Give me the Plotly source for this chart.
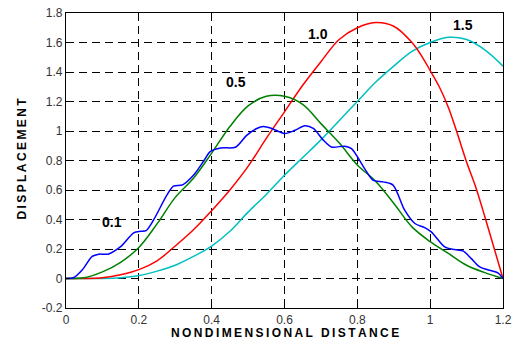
import plotly.graph_objects as go

# ---- data ----
x_grid = [0, 0.05, 0.1, 0.15, 0.2, 0.25, 0.3, 0.35, 0.4, 0.45, 0.5, 0.55, 0.6,
          0.65, 0.7, 0.75, 0.8, 0.85, 0.9, 0.95, 1.0, 1.05, 1.1, 1.15, 1.2]

x_red = [0, 0.05, 0.1, 0.15, 0.2, 0.25, 0.3, 0.35, 0.4, 0.45, 0.5, 0.55, 0.6,
         0.65, 0.7, 0.75, 0.8, 0.85, 0.9, 0.95, 0.975, 1.0, 1.025, 1.05, 1.075,
         1.1, 1.125, 1.15, 1.175, 1.2]
y_red = [0, 0.0, 0.005, 0.025, 0.06, 0.12, 0.22, 0.33, 0.46, 0.6, 0.76, 0.95, 1.13,
         1.31, 1.47, 1.62, 1.70, 1.735, 1.71, 1.60, 1.515, 1.41, 1.30, 1.16, 0.98,
         0.79, 0.62, 0.42, 0.21, 0.0]

y_cyan = [0, 0.0, 0.0, 0.005, 0.02, 0.05, 0.09, 0.15, 0.22, 0.32, 0.45, 0.57, 0.70,
          0.82, 0.94, 1.07, 1.2, 1.33, 1.44, 1.54, 1.60, 1.635, 1.62, 1.55, 1.44]

y_green = [0, 0.005, 0.045, 0.11, 0.21, 0.37, 0.55, 0.68, 0.85, 1.03, 1.17, 1.235, 1.235,
           1.18, 1.05, 0.92, 0.77, 0.66, 0.51, 0.35, 0.25, 0.17, 0.09, 0.04, 0.0]

x_blue = [0, 0.02, 0.045, 0.072, 0.09, 0.115, 0.149, 0.186, 0.205, 0.22, 0.24, 0.277,
          0.295, 0.32, 0.35, 0.379, 0.396, 0.425, 0.465, 0.496, 0.524, 0.542, 0.565,
          0.601, 0.629, 0.656, 0.679, 0.706, 0.729, 0.766, 0.784, 0.82, 0.843, 0.871,
          0.898, 0.93, 0.958, 0.985, 1.003, 1.04, 1.067, 1.09, 1.113, 1.136, 1.163,
          1.186, 1.2]
y_blue = [0, 0.005, 0.06, 0.15, 0.165, 0.165, 0.214, 0.31, 0.32, 0.325, 0.395, 0.565,
          0.626, 0.635, 0.70, 0.80, 0.86, 0.885, 0.89, 0.97, 1.017, 1.03, 1.017,
          0.983, 1.005, 1.035, 1.017, 0.94, 0.892, 0.897, 0.88, 0.745, 0.667, 0.655,
          0.633, 0.463, 0.373, 0.345, 0.316, 0.214, 0.196, 0.187, 0.135, 0.079, 0.056,
          0.038, 0.0]

curve_labels = ["0.1", "0.5", "1.0", "1.5"]
label_x = [0.127, 0.467, 0.693, 1.09]
label_y = [0.384, 1.333, 1.66, 1.717]

x_ticks = [0, 0.2, 0.4, 0.6, 0.8, 1.0, 1.2]
x_ticktext = ["0", "0.2", "0.4", "0.6", "0.8", "1", "1.2"]
y_ticks = [-0.2, 0, 0.2, 0.4, 0.6, 0.8, 1.0, 1.2, 1.4, 1.6, 1.8]
y_ticktext = ["-0.2", "0", "0.2", "0.4", "0.6", "0.8", "1", "1.2", "1.4", "1.6", "1.8"]

x_title = "NONDIMENSIONAL DISTANCE"
y_title = "DISPLACEMENT"

FONT = "Liberation Sans, Arial, sans-serif"
TS = "\u2009"


def spaced(s):
    return TS.join(list(s))


fig = go.Figure()
fig.add_trace(go.Scatter(x=x_grid, y=y_cyan, mode="lines", line=dict(color="#00bfbf", width=1.5, shape="spline"), name="1.5"))
fig.add_trace(go.Scatter(x=x_red, y=y_red, mode="lines", line=dict(color="#ff0000", width=1.5, shape="spline"), name="1.0"))
fig.add_trace(go.Scatter(x=x_grid, y=y_green, mode="lines", line=dict(color="#008000", width=1.5, shape="spline"), name="0.5"))
fig.add_trace(go.Scatter(x=x_blue, y=y_blue, mode="lines", line=dict(color="#0000ff", width=1.5, shape="spline", smoothing=0.8), name="0.1"))

for t, lx, ly in zip(curve_labels, label_x, label_y):
    fig.add_annotation(x=lx, y=ly, text=t, showarrow=False,
                       font=dict(family=FONT, size=14, color="black", weight="bold"))

fig.add_annotation(xref="paper", yref="paper", x=0.5, y=0, yanchor="middle", yshift=-25,
                   text=spaced(x_title), showarrow=False,
                   font=dict(family=FONT, size=12, color="black", weight="bold"))
fig.add_annotation(xref="paper", yref="paper", x=0, y=0.5, xanchor="center", xshift=-45, yshift=2,
                   text=spaced(y_title), textangle=-90, showarrow=False,
                   font=dict(family=FONT, size=12, color="black", weight="bold"))

axis_common = dict(
    showgrid=True, gridcolor="black", gridwidth=1, griddash="8px,5px",
    showline=True, linecolor="black", linewidth=1.2, mirror=True,
    ticks="inside", ticklen=4, tickcolor="black",
    zeroline=False, automargin=False,
    tickfont=dict(family=FONT, size=12, color="#333333"),
)

fig.update_xaxes(range=[0, 1.2], tickvals=x_ticks, ticktext=x_ticktext, **axis_common)
fig.update_yaxes(range=[-0.2, 1.8], tickvals=y_ticks, ticktext=y_ticktext, **axis_common)

fig.update_layout(
    width=515, height=342,
    margin=dict(l=66, r=12, t=13, b=34),
    paper_bgcolor="white", plot_bgcolor="white",
    showlegend=False,
)

fig.write_html("out.html", config={"displayModeBar": False},
               post_script="document.body.style.margin='0px';document.body.style.overflow='hidden';")
